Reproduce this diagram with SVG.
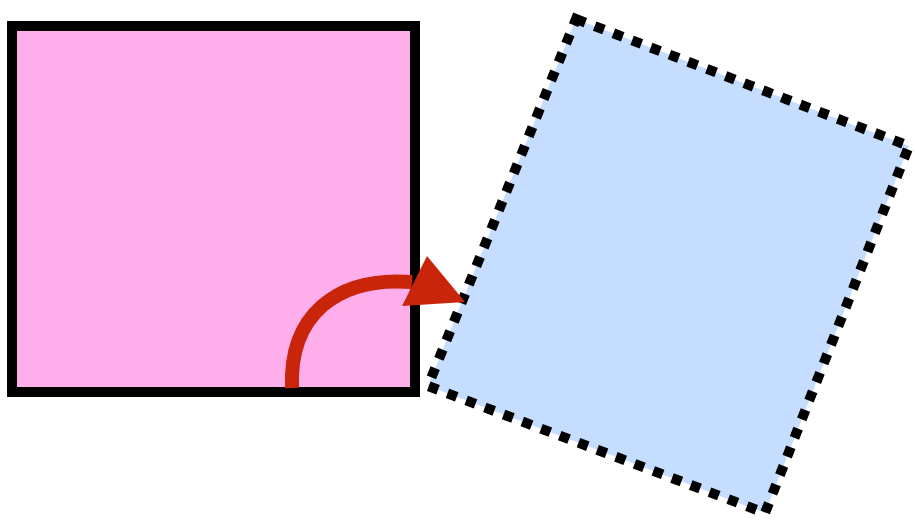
<svg xmlns="http://www.w3.org/2000/svg" width="915" height="526" viewBox="0 0 915 526">
<style>
.pink{fill:#ffaeec;stroke:#000;stroke-width:10}
.blue{fill:#c5ddff;stroke:#000;stroke-width:10;stroke-dasharray:10 10}
.arc{fill:none;stroke:#c8250b;stroke-width:14}
.head{fill:#c8250b}
</style>
<rect width="915" height="526" fill="#fff"/>
<g id="square">
<rect class="pink" x="12" y="26" width="403" height="366"/>
</g>
<g id="rotated">
<polygon class="blue" points="576,19 909,146 765,513 428,386"/>
</g>
<g id="connectors">
<path class="arc" d="M292,388 C289,316 336,276 412,282"/>
<polygon class="head" points="427,256 402,306 465,302"/>
</g>
</svg>
